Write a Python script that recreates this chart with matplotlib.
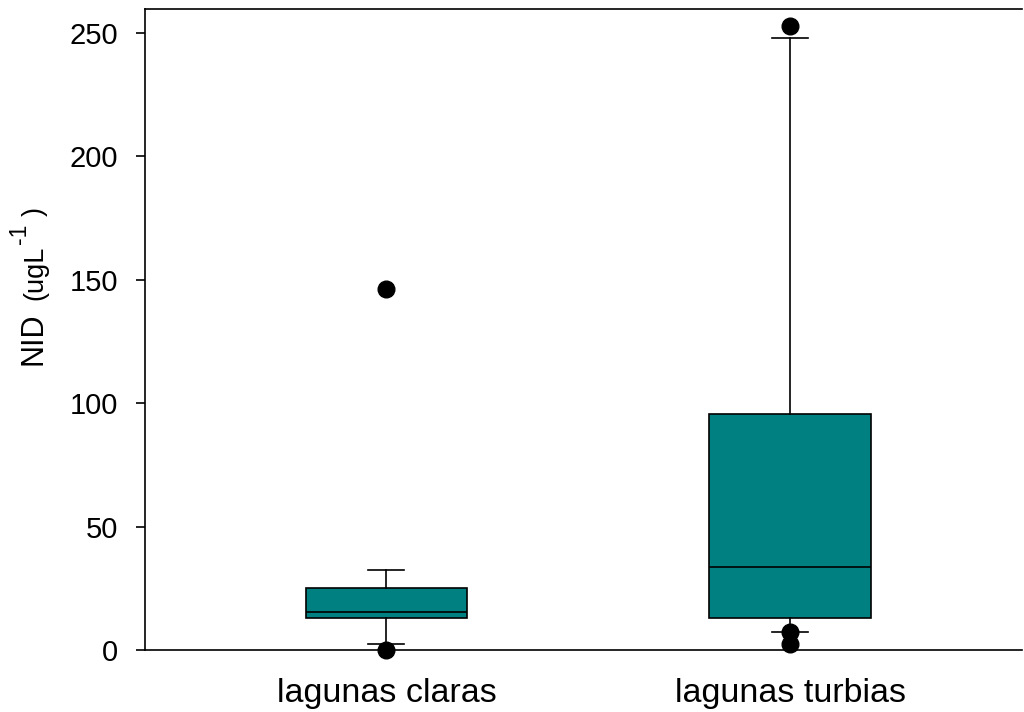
import matplotlib
matplotlib.use("Agg")
import matplotlib.pyplot as plt

plt.rcParams['font.family'] = ['Liberation Sans', 'DejaVu Sans']

categories = ["lagunas claras", "lagunas turbias"]
q1 = [13.1, 13.1]
median = [15.5, 33.5]
q3 = [25.0, 95.6]
whis_lo = [2.3, 7.2]
whis_hi = [32.4, 248.1]
outliers = [[0.0, 146.3], [253.0, 7.2, 2.3]]
yticks = [0, 50, 100, 150, 200, 250]

fig = plt.figure(figsize=(10.24, 7.12), dpi=100)
ax = fig.add_axes([145/1024, 62/712, 877/1024, 640.5/712])

stats = []
for i, name in enumerate(categories):
    stats.append(dict(label=name, q1=q1[i], med=median[i], q3=q3[i],
                      whislo=whis_lo[i], whishi=whis_hi[i], fliers=outliers[i]))

bp = ax.bxp(stats, positions=[1, 2], widths=0.40, capwidths=0.089,
            patch_artist=True, showfliers=True,
            boxprops=dict(facecolor='#008080', edgecolor='black', linewidth=1.2),
            medianprops=dict(color='black', linewidth=1.2),
            whiskerprops=dict(color='black', linewidth=1.2),
            capprops=dict(color='black', linewidth=1.2),
            flierprops=dict(marker='o', markerfacecolor='black', markeredgecolor='black',
                            markersize=12, linestyle='none'))
for f in bp['fliers']:
    f.set_clip_on(False)
    f.set_zorder(5)

ax.set_xlim(0.402, 2.574)
ax.set_ylim(0, 259.5)
ax.set_yticks(yticks)
ax.set_yticklabels([str(v) for v in yticks])
ax.set_xticks([1, 2])
ax.set_xticklabels(categories)

ax.spines['right'].set_visible(False)
for s in ['left', 'bottom', 'top']:
    ax.spines[s].set_linewidth(1.2)

ax.tick_params(axis='y', direction='out', length=6.5, width=1.2, labelsize=21, pad=13)
ax.tick_params(axis='x', length=0, labelsize=24.5, pad=20)

# y-axis label pieces (pixel positions converted to axes fraction)
def ax_x(px):
    return (px - 145) / 877.0

def ax_y(py):
    return (650 - py) / 640.5

label_kw = dict(transform=ax.transAxes, rotation=90, rotation_mode='anchor',
                ha='left', va='baseline')
ax.text(ax_x(42), ax_y(365), "NID", fontsize=22, **label_kw)
ax.text(ax_x(42), ax_y(300), "(ugL", fontsize=19.5, **label_kw)
ax.text(ax_x(26), ax_y(244), "-1", fontsize=16.5, **label_kw)
ax.text(ax_x(42), ax_y(216), ")", fontsize=19.5, **label_kw)

fig.savefig("out.png", dpi=100)
